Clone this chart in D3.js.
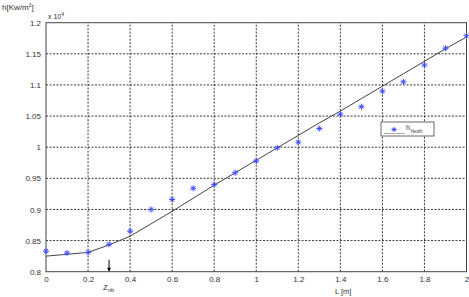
<!DOCTYPE html>
<html>
<head>
<meta charset="utf-8">
<script src="https://cdn.jsdelivr.net/npm/d3@7"></script>
<style>
  body { margin: 0; background: #fff; }
  svg { display: block; font-family: 'Liberation Sans', Arial, sans-serif; }
</style>
</head>
<body>
<svg id="chart" width="469" height="297"></svg>
<script>
// measured points h_Yeoh (x 10^4)
const pointL = [0, 0.1, 0.2, 0.3, 0.4, 0.5, 0.6, 0.7, 0.8, 0.9, 1.0, 1.1, 1.2, 1.3, 1.4, 1.5, 1.6, 1.7, 1.8, 1.9, 2.0];
const pointH = [0.833, 0.830, 0.831, 0.844, 0.865, 0.900, 0.916, 0.934, 0.940, 0.959, 0.978, 0.999, 1.008, 1.030, 1.053, 1.065, 1.090, 1.105, 1.132, 1.159, 1.179];

// model curve
const curveL = [0, 0.1, 0.2, 0.3, 0.4, 0.5, 0.6, 0.7, 0.8, 0.9, 1.0, 1.1, 1.2, 1.3, 1.4, 1.5, 1.6, 1.7, 1.8, 1.9, 2.0];
const curveH = [0.825, 0.828, 0.831, 0.843, 0.857, 0.877, 0.897, 0.918, 0.939, 0.959, 0.979, 0.999, 1.019, 1.039, 1.058, 1.078, 1.098, 1.118, 1.138, 1.158, 1.177];

const xTicks = [0, 0.2, 0.4, 0.6, 0.8, 1, 1.2, 1.4, 1.6, 1.8, 2];
const yTicks = [0.8, 0.85, 0.9, 0.95, 1, 1.05, 1.1, 1.15, 1.2];
const zNb = 0.3;

const width = 469, height = 297;
const margin = { top: 22.7, right: 2.5, bottom: 25.3, left: 46 };

const svg = d3.select('#chart');

const x = d3.scaleLinear().domain([0, 2]).range([margin.left, width - margin.right]);
const y = d3.scaleLinear().domain([0.8, 1.2]).range([height - margin.bottom, margin.top]);

// grid
svg.append('g')
  .selectAll('line')
  .data(xTicks.slice(1, -1))
  .join('line')
  .attr('x1', (d) => x(d)).attr('x2', (d) => x(d))
  .attr('y1', y(0.8)).attr('y2', y(1.2))
  .attr('stroke', '#222').attr('stroke-width', 0.9)
  .attr('stroke-dasharray', '2,1.5');

svg.append('g')
  .selectAll('line')
  .data(yTicks.slice(1, -1))
  .join('line')
  .attr('x1', x(0)).attr('x2', x(2))
  .attr('y1', (d) => y(d)).attr('y2', (d) => y(d))
  .attr('stroke', '#222').attr('stroke-width', 0.9)
  .attr('stroke-dasharray', '2,1.5');

// axes
svg.append('g')
  .attr('transform', `translate(0,${y(0.8)})`)
  .call(d3.axisBottom(x).tickValues(xTicks).tickSize(0).tickPadding(5).tickFormat(d3.format('~g')))
  .call((g) => g.select('.domain').remove())
  .call((g) => g.selectAll('text').attr('font-size', 8).attr('fill', '#333').attr('font-family', 'Liberation Sans, Arial, sans-serif'));

svg.append('g')
  .attr('transform', `translate(${x(0)},0)`)
  .call(d3.axisLeft(y).tickValues(yTicks).tickSize(0).tickPadding(5).tickFormat(d3.format('~g')))
  .call((g) => g.select('.domain').remove())
  .call((g) => g.selectAll('text').attr('font-size', 8).attr('fill', '#333').attr('font-family', 'Liberation Sans, Arial, sans-serif'));

// frame
svg.append('rect')
  .attr('x', x(0)).attr('y', y(1.2))
  .attr('width', x(2) - x(0)).attr('height', y(0.8) - y(1.2))
  .attr('fill', 'none').attr('stroke', '#444').attr('stroke-width', 1);

// curve
const line = d3.line().x((d) => x(d[0])).y((d) => y(d[1]));
svg.append('path')
  .datum(curveL.map((l, i) => [l, curveH[i]]))
  .attr('fill', 'none')
  .attr('stroke', '#444')
  .attr('stroke-width', 1)
  .attr('d', line);

// asterisk marker
function star(g, cx, cy, r) {
  const s = r * 0.7;
  g.append('path')
    .attr('d', `M${cx - r},${cy}H${cx + r}M${cx},${cy - r}V${cy + r}` +
      `M${cx - s},${cy - s}L${cx + s},${cy + s}M${cx - s},${cy + s}L${cx + s},${cy - s}`)
    .attr('stroke', '#3d4dff').attr('stroke-width', 1).attr('fill', 'none');
}

const pts = svg.append('g');
pointL.forEach((l, i) => star(pts, x(l), y(pointH[i]), 3));

// exponent label
svg.append('text').attr('x', x(0) + 2).attr('y', y(1.2) - 4)
  .attr('font-size', 7).attr('fill', '#333')
  .text('x 10').append('tspan').attr('font-size', 5).attr('dy', -3).text('4');

// y label
svg.append('text').attr('x', 2).attr('y', 10)
  .attr('font-size', 8).attr('fill', '#333')
  .text('h[Kw/m').call((t) => t.append('tspan').attr('font-size', 5).attr('dy', -3).text('2'))
  .call((t) => t.append('tspan').attr('dy', 3).text(']'));

// x label
svg.append('text').attr('x', 335).attr('y', 294)
  .attr('font-size', 7.5).attr('fill', '#333')
  .text('L  [m]');

// Z_nb arrow
svg.append('line')
  .attr('x1', x(zNb)).attr('x2', x(zNb))
  .attr('y1', y(0.8) - 12).attr('y2', y(0.8) - 1)
  .attr('stroke', '#000').attr('stroke-width', 1);
svg.append('path')
  .attr('d', `M${x(zNb) - 2},${y(0.8) - 4}L${x(zNb)},${y(0.8)}L${x(zNb) + 2},${y(0.8) - 4}Z`)
  .attr('fill', '#000');
svg.append('text').attr('x', x(zNb) - 6).attr('y', 290)
  .attr('font-size', 8).attr('fill', '#333')
  .text('Z').append('tspan').attr('font-size', 5.5).attr('dy', 2).text('nb');

// legend
const lg = svg.append('g').attr('transform', 'translate(381,122)');
lg.append('rect').attr('width', 53).attr('height', 14)
  .attr('fill', '#fff').attr('stroke', '#444').attr('stroke-width', 0.8);
lg.append('line').attr('x1', 3).attr('x2', 24).attr('y1', 11.5).attr('y2', 11.5)
  .attr('stroke', '#999').attr('stroke-width', 0.8);
star(lg, 13, 7.5, 2.5);
lg.append('text').attr('x', 25).attr('y', 8)
  .attr('font-size', 7).attr('fill', '#333')
  .text('h').append('tspan').attr('font-size', 5.5).attr('dy', 2.5).text('Yeoh');
</script>
</body>
</html>
